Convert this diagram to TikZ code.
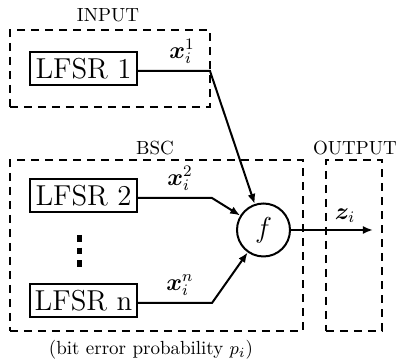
\documentclass[tikz,border=0pt]{standalone}
\usepackage{bm}
\usetikzlibrary{arrows.meta}
\begin{document}
\begin{tikzpicture}[x=0.5pt, y=-0.5pt, line width=1pt,
      lfsr/.style={draw, rectangle, minimum width=53.5pt, minimum height=16.5pt, inner sep=0pt, font=\Large},
      frame/.style={draw, dash pattern=on 4pt off 3pt, rectangle, inner sep=0pt},
      frametitle/.style={font=\fontsize{9.5}{11}\selectfont},
      fun/.style={draw, circle, minimum size=26.5pt, inner sep=0pt, font=\Large},
      sig/.style={font=\large, inner sep=1pt},
      flow/.style={-{Latex[length=5pt,width=4pt]}}]
  \useasboundingbox (0,0) rectangle (398,363);
  \node[frame, minimum width=100pt, minimum height=38.5pt] (input) at (110,68.5) {};
  \node[frame, minimum width=146.5pt, minimum height=85.5pt] (bsc) at (156.5,245.5) {};
  \node[frame, minimum width=28pt, minimum height=85.5pt] (output) at (354,245.5) {};
  \node[frametitle] (tin) at (108,15) {INPUT};
  \node[frametitle] (tbsc) at (155,148) {BSC};
  \node[frametitle] (tout) at (355,148) {OUTPUT};
  \node[frametitle] (perr) at (151,350) {(bit error probability $p_i$)};
  \node[lfsr] (l1) at (83.5,68.5) {LFSR 1};
  \node[lfsr] (l2) at (83.5,196) {LFSR 2};
  \node[lfsr] (ln) at (83.5,300.5) {LFSR n};
  \node[fun] (f) at (263.5,230) {$f$};
  \coordinate (b1) at (210,71);
  \coordinate (b2) at (212,198);
  \coordinate (bn) at (212,303);
  \coordinate (zout) at (373,230);
  \coordinate (d1) at (80,235);
  \coordinate (d2) at (80,268);
  \draw[flow] (l1.east |- b1) -- (b1) -- (f);
  \draw[flow] (l2.east |- b2) -- (b2) -- (f);
  \draw[flow] (ln.east |- bn) -- (bn) -- (f);
  \draw[flow] (f) -- (zout);
  \draw[line width=2.5pt, dash pattern=on 3.3pt off 3pt] (d1) -- (d2);
  \node[sig, anchor=south] (x1) at (182,67) {$\bm{x}_i^1$};
  \node[sig, anchor=south] (x2) at (180,194) {$\bm{x}_i^2$};
  \node[sig, anchor=south] (xn) at (180,299) {$\bm{x}_i^n$};
  \node[sig, anchor=south] (z) at (345,226) {$\bm{z}_i$};
\end{tikzpicture}
\end{document}
